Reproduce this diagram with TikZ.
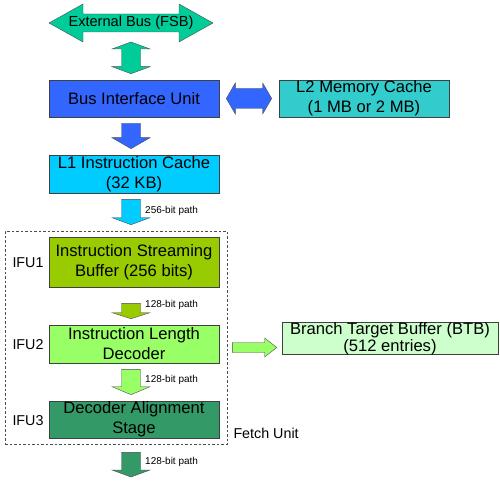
\documentclass[tikz,border=0pt]{standalone}
\usepackage{fontspec}
\setmainfont{Liberation Sans}
\usetikzlibrary{calc,positioning}
\definecolor{busgreen}{RGB}{0,204,153}
\definecolor{biublue}{RGB}{51,102,255}
\definecolor{ltwocyan}{RGB}{51,204,204}
\definecolor{lonecyan}{RGB}{0,204,255}
\definecolor{ifuone}{RGB}{153,204,0}
\definecolor{ifutwo}{RGB}{153,255,102}
\definecolor{ifuthree}{RGB}{51,153,102}
\definecolor{btbgreen}{RGB}{204,255,204}

\begin{document}
\begin{tikzpicture}[x=1pt, y=-1pt,
    box/.style={draw=black!75, line width=0.6pt, minimum width=170pt,
        inner xsep=0pt, inner ysep=0pt, align=center,
        font=\fontsize{16.6}{20}\selectfont},
    blk/.style={draw=black!70, line width=0.4pt},
    ifu/.style={anchor=east, inner sep=0pt, font=\fontsize{14.3}{16}\selectfont},
    bitlab/.style={anchor=west, inner sep=0pt, font=\fontsize{10}{12}\selectfont}]
\useasboundingbox (0,0) rectangle (500,481);

% units
\node (biu) [box, fill=biublue, minimum height=37pt] at (134,98.5) {Bus Interface Unit};
\node (ltwo) [box, fill=ltwocyan, minimum height=37pt] at (364,98.5) {L2 Memory Cache\\(1 MB or 2 MB)};
\node (lone) [box, fill=lonecyan, minimum height=38pt] at (134,174) {L1 Instruction Cache\\(32 KB)};
\node (ifu1) [box, fill=ifuone, minimum height=50pt] at (134,262) {Instruction Streaming\\Buffer (256 bits)};
\node (ifu2) [box, fill=ifutwo, minimum height=38pt] at (134,344) {Instruction Length\\Decoder};
\node (ifu3) [box, fill=ifuthree, minimum height=37pt] at (134,419.5) {Decoder Alignment\\Stage};
\node (btb) [box, fill=btbgreen, minimum width=216pt, minimum height=31pt,
    font=\fontsize{16.6}{16.5}\selectfont] at (390,338.5) {Branch Target Buffer (BTB)\\(512 entries)};

% fetch unit frame
\node (fetch) [draw=black!70, line width=0.6pt, dash pattern=on 2.5pt off 2pt,
    minimum width=222pt, minimum height=213pt] at (116,337.5) {};
\node (fetchlab) [ifu, anchor=west] at ($(fetch.south east)+(6,-11)$) {Fetch Unit};
\foreach \i in {1,2,3}
    \node (lab\i) [ifu] at ($(ifu\i.west)+(-5,1)$) {IFU\i};

% external bus
\coordinate (fsbc) at (131,23);
\draw[blk, fill=busgreen] ($(fsbc)+(-82,0)$) -- ++(34,-19) -- ++(0,10) -- ++(96,0)
    -- ++(0,-10) -- ++(34,19) -- ++(-34,19) -- ++(0,-10) -- ++(-96,0) -- ++(0,10) -- cycle;
\node (fsb) [font=\fontsize{14.6}{16}\selectfont] at (fsbc) {External Bus (FSB)};

% bus <-> biu
\coordinate (va) at ($(fsbc)+(0,19)$);
\coordinate (vb) at ($(biu.north)+(-3,-6)$);
\draw[blk, fill=busgreen] (va) -- ($(va)+(19,7)$) -- ($(va)+(9.5,7)$) -- ($(vb)+(9.5,-7)$)
    -- ($(vb)+(19,-7)$) -- (vb) -- ($(vb)+(-19,-7)$) -- ($(vb)+(-9.5,-7)$)
    -- ($(va)+(-9.5,7)$) -- ($(va)+(-19,7)$) -- cycle;

% biu <-> l2
\coordinate (ha) at ($(biu.east)+(7,0)$);
\coordinate (hb) at ($(ltwo.west)+(-7,0)$);
\draw[blk, fill=biublue] (ha) -- ($(ha)+(9,-15.5)$) -- ($(ha)+(9,-10)$) -- ($(hb)+(-9,-10)$)
    -- ($(hb)+(-9,-15.5)$) -- (hb) -- ($(hb)+(-9,15.5)$) -- ($(hb)+(-9,10)$)
    -- ($(ha)+(9,10)$) -- ($(ha)+(9,15.5)$) -- cycle;

% biu -> l1
\coordinate (t) at ($(biu.south)+(-3,6)$);
\coordinate (p) at ($(lone.north)+(-3,-6)$);
\draw[blk, fill=biublue] ($(t)+(-9.5,0)$) -- ($(t)+(9.5,0)$) -- ($(p)+(9.5,-11)$)
    -- ($(p)+(19,-11)$) -- (p) -- ($(p)+(-19,-11)$) -- ($(p)+(-9.5,-11)$) -- cycle;

% paths down the pipeline
\coordinate (out) at (134,477);
\foreach \src/\dst/\gt/\gb/\hl/\col/\lab/\ly in {
    lone/ifu1.north/6/12/7/lonecyan/256/12,
    ifu1/ifu2.north/16/6/6/ifuone/128/2,
    ifu2/ifu3.north/6/6/8/ifutwo/128/11,
    ifu3/out/14/0/7/ifuthree/128/10}
{
    \coordinate (t) at ($(\src.south)+(-3,\gt)$);
    \coordinate (p) at ($(\dst)+(-3,-\gb)$);
    \draw[blk, fill=\col] ($(t)+(-9.5,0)$) -- ($(t)+(9.5,0)$) -- ($(p)+(9.5,-\hl)$)
        -- ($(p)+(19,-\hl)$) -- (p) -- ($(p)+(-19,-\hl)$) -- ($(p)+(-9.5,-\hl)$) -- cycle;
    \node (w\src) [bitlab] at ($(t)+(14,\ly)$) {\lab-bit path};
}

% ifu2 -> btb
\coordinate (ra) at ($(ifu2.east)+(13,3.5)$);
\coordinate (rb) at ($(btb.west)+(-5,9)$);
\draw[blk, fill=ifutwo] ($(ra)+(0,-5)$) -- ($(rb)+(-12,-5)$) -- ($(rb)+(-12,-9.5)$) -- (rb)
    -- ($(rb)+(-12,9.5)$) -- ($(rb)+(-12,5)$) -- ($(ra)+(0,5)$) -- cycle;

\end{tikzpicture}
\end{document}
